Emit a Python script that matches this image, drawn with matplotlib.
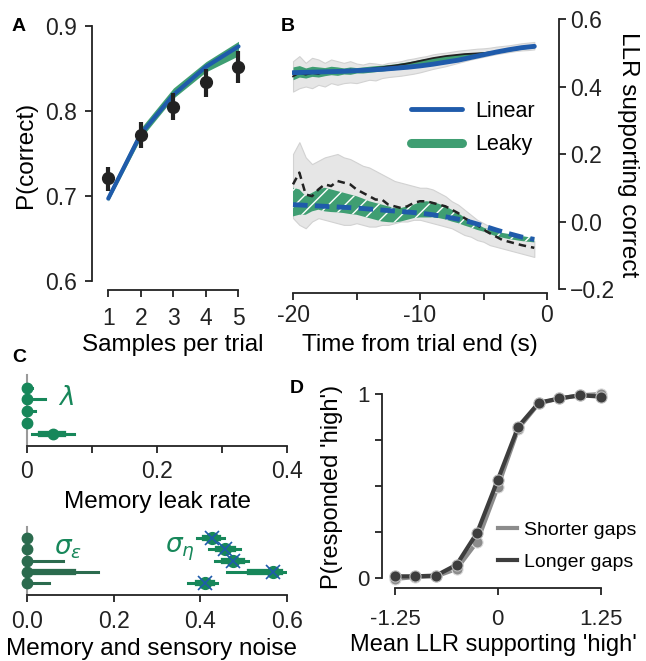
import numpy as np
import matplotlib
matplotlib.use("Agg")
import matplotlib.pyplot as plt

plt.rcParams['font.family'] = ['Liberation Sans', 'DejaVu Sans']
plt.rcParams['axes.unicode_minus'] = False
plt.rcParams['hatch.linewidth'] = 1.0

BLUE = '#1f5bab'
GREEN = '#3f9e72'
DOT_GREEN = '#17875a'
DARK_GREEN = '#2b6b4e'
INK = '#222222'

# ---- A: accuracy vs samples per trial
samples = [1, 2, 3, 4, 5]
acc_mean = [0.721, 0.772, 0.805, 0.834, 0.852]
acc_lo = [0.706, 0.756, 0.789, 0.816, 0.833]
acc_hi = [0.734, 0.787, 0.821, 0.850, 0.871]
linear_acc = [0.697, 0.773, 0.819, 0.852, 0.876]
leaky_acc_lo = [0.694, 0.768, 0.815, 0.846, 0.865]
leaky_acc_hi = [0.703, 0.780, 0.827, 0.858, 0.882]

# ---- B: LLR supporting correct, time before trial end
t_fine = [-20, -19.5, -19, -18.5, -18, -17.5, -17, -16.5, -16, -15.5, -15, -14.5, -14,
          -13.5, -13, -12.5, -12, -11.5, -11, -10.5, -10, -9.5, -9, -8.5, -8, -7.5, -7,
          -6.5, -6, -5.5, -5, -4.5, -4, -3.5, -3, -2.5, -2, -1.5, -1]
t_coarse = [-20, -19, -18, -17, -16, -15, -14, -13, -12, -11, -10, -9, -8, -7, -6, -5,
            -4, -3, -2, -1]

# correct choices (upper group)
cor_gray_hi = [0.475, 0.49, 0.47, 0.485, 0.48, 0.47, 0.48, 0.475, 0.47, 0.475, 0.468, 0.465,
               0.47, 0.468, 0.465, 0.47, 0.472, 0.475, 0.48, 0.483, 0.487, 0.49, 0.495, 0.498,
               0.5, 0.503, 0.506, 0.508, 0.51, 0.512, 0.513, 0.515, 0.518, 0.52, 0.522, 0.525,
               0.528, 0.53, 0.532]
cor_gray_lo = [0.385, 0.395, 0.40, 0.395, 0.405, 0.40, 0.41, 0.405, 0.41, 0.412, 0.41, 0.415,
               0.42, 0.418, 0.425, 0.428, 0.43, 0.432, 0.435, 0.438, 0.442, 0.447, 0.452, 0.456,
               0.46, 0.465, 0.47, 0.475, 0.48, 0.484, 0.488, 0.492, 0.496, 0.499, 0.502, 0.505,
               0.507, 0.508, 0.51]
cor_data = [0.43, 0.44, 0.435, 0.44, 0.437, 0.445, 0.44, 0.447, 0.443, 0.45, 0.446, 0.45,
            0.452, 0.455, 0.457, 0.46, 0.462, 0.465, 0.468, 0.472, 0.476, 0.48, 0.484, 0.487,
            0.49, 0.492, 0.494, 0.496, 0.497, 0.498, 0.499, 0.501, 0.503, 0.506, 0.509, 0.512,
            0.515, 0.518, 0.52]
cor_leaky_hi = [0.458, 0.462, 0.455, 0.46, 0.458, 0.456, 0.46, 0.458, 0.455, 0.458, 0.456,
                0.458, 0.46, 0.462, 0.463, 0.465, 0.467, 0.47, 0.473, 0.476, 0.48, 0.483, 0.486,
                0.489, 0.492, 0.494, 0.496, 0.498, 0.5, 0.501, 0.503, 0.505, 0.507, 0.51, 0.512,
                0.515, 0.518, 0.52, 0.522]
cor_leaky_lo = [0.42, 0.428, 0.425, 0.43, 0.428, 0.432, 0.435, 0.433, 0.437, 0.436, 0.44, 0.44,
                0.442, 0.444, 0.446, 0.448, 0.45, 0.452, 0.455, 0.458, 0.462, 0.465, 0.468,
                0.472, 0.475, 0.478, 0.481, 0.484, 0.487, 0.49, 0.493, 0.496, 0.499, 0.502,
                0.505, 0.508, 0.511, 0.513, 0.515]
cor_linear = [0.441, 0.442, 0.443, 0.444, 0.445, 0.447, 0.449, 0.451, 0.454, 0.457, 0.461,
              0.466, 0.472, 0.478, 0.486, 0.494, 0.502, 0.509, 0.515, 0.519]

# error choices (lower group)
err_gray_hi = [0.20, 0.235, 0.19, 0.17, 0.18, 0.19, 0.195, 0.20, 0.19, 0.185, 0.175, 0.165,
               0.16, 0.15, 0.14, 0.13, 0.12, 0.115, 0.11, 0.105, 0.10, 0.10, 0.095, 0.085,
               0.075, 0.06, 0.05, 0.035, 0.02, 0.005, -0.005, -0.015, -0.025, -0.035, -0.04,
               -0.048, -0.053, -0.056, -0.058]
err_gray_lo = [0.01, -0.01, -0.02, 0.0, 0.01, 0.005, 0.0, -0.005, -0.01, -0.01, -0.005, -0.01,
               -0.015, -0.015, -0.01, -0.01, -0.005, 0.0, 0.0, 0.005, 0.005, 0.0, -0.005, -0.01,
               -0.015, -0.02, -0.03, -0.04, -0.045, -0.055, -0.06, -0.07, -0.075, -0.08, -0.085,
               -0.09, -0.095, -0.1, -0.105]
err_data = [0.11, 0.145, 0.08, 0.075, 0.095, 0.11, 0.105, 0.12, 0.115, 0.11, 0.095, 0.085,
            0.075, 0.065, 0.065, 0.05, 0.045, 0.04, 0.045, 0.055, 0.06, 0.06, 0.055, 0.05,
            0.045, 0.035, 0.025, 0.01, 0.0, -0.01, -0.024, -0.035, -0.045, -0.055, -0.06,
            -0.065, -0.07, -0.074, -0.078]
err_leaky_hi = [0.10, 0.095, 0.075, 0.085, 0.095, 0.10, 0.095, 0.09, 0.085, 0.08, 0.075, 0.068,
                0.06, 0.055, 0.05, 0.045, 0.04, 0.04, 0.045, 0.05, 0.057, 0.06, 0.058, 0.052,
                0.045, 0.035, 0.025, 0.012, 0.002, -0.008, -0.018, -0.025, -0.03, -0.034,
                -0.037, -0.04, -0.043, -0.046, -0.048]
err_leaky_lo = [0.015, 0.02, 0.02, 0.03, 0.035, 0.03, 0.028, 0.027, 0.025, 0.022, 0.02, 0.015,
                0.01, 0.005, 0.0, -0.002, -0.003, 0.0, 0.005, 0.01, 0.012, 0.012, 0.012, 0.01,
                0.006, 0.0, -0.005, -0.012, -0.018, -0.025, -0.03, -0.037, -0.044, -0.048,
                -0.052, -0.055, -0.058, -0.06, -0.062]
err_linear = [0.05, 0.048, 0.046, 0.044, 0.042, 0.04, 0.037, 0.034, 0.031, 0.028, 0.025, 0.02,
              0.014, 0.007, -0.002, -0.013, -0.025, -0.036, -0.046, -0.053]

# ---- C: fitted parameters per subject (rows top to bottom)
rows = [1, 2, 3, 4, 5]
leak = [0.0, 0.0, 0.0, 0.0, 0.04]
leak_lo = [0.0, 0.0, 0.0, 0.0, 0.007]
leak_hi = [0.008, 0.027, 0.012, 0.0, 0.072]
leak_mid_lo = [0.0, 0.0, 0.0, 0.0, 0.022]
leak_mid_hi = [0.0, 0.0, 0.0, 0.0, 0.055]

mem_noise = [0.0, 0.0, 0.0, 0.0, 0.0]
mem_noise_hi = [0.0, 0.0, 0.083, 0.163, 0.051]
mem_noise_mid_hi = [0.0, 0.0, 0.0, 0.106, 0.0]

sens_noise = [0.426, 0.457, 0.476, 0.568, 0.411]
sens_noise_lo = [0.392, 0.42, 0.434, 0.461, 0.372]
sens_noise_hi = [0.455, 0.491, 0.511, 0.607, 0.439]
sens_noise_mid_lo = [0.41, 0.44, 0.455, 0.515, 0.395]
sens_noise_mid_hi = [0.44, 0.475, 0.495, 0.584, 0.428]

# ---- D: psychometric curves
mean_llr = [-1.25, -1.0, -0.75, -0.5, -0.25, 0.0, 0.25, 0.5, 0.75, 1.0, 1.25]
p_shorter = [-0.005, 0.005, 0.009, 0.049, 0.197, 0.494, 0.812, 0.949, 0.976, 0.993, 1.0]
p_longer = [0.009, 0.009, 0.013, 0.072, 0.247, 0.533, 0.823, 0.953, 0.976, 0.993, 0.986]


W, H = 646, 661
fig = plt.figure(figsize=(W / 100, H / 100), dpi=100)


def box(x0, y0, x1, y1):
    return [x0 / W, 1 - y1 / H, (x1 - x0) / W, (y1 - y0) / H]


def style(ax, size=16.5):
    for s in ax.spines.values():
        s.set_linewidth(1.3)
        s.set_color(INK)
    ax.tick_params(length=5, width=1.3, labelsize=size, colors=INK)


def xlabel_at(ax, text, xc, yc, size=17.5):
    ax.set_xlabel(text, fontsize=size, va='center', ha='center')
    ax.xaxis.set_label_coords(xc / W, 1 - yc / H, transform=fig.transFigure)


def ylabel_at(ax, text, xc, yc, rot=90, size=17.5):
    ax.set_ylabel(text, fontsize=size, va='center', ha='center', rotation=rot)
    ax.yaxis.set_label_coords(xc / W, 1 - yc / H, transform=fig.transFigure)


# ---------------- A
axA = fig.add_axes(box(92, 26, 245, 281))
style(axA)
axA.fill_between(samples, leaky_acc_lo, leaky_acc_hi, color=GREEN, lw=0, zorder=2)
axA.plot(samples, linear_acc, color=BLUE, lw=3, zorder=3, solid_capstyle='round')
yerr = [np.array(acc_mean) - np.array(acc_lo), np.array(acc_hi) - np.array(acc_mean)]
axA.errorbar(samples, acc_mean, yerr=yerr, fmt='o', color=INK, ms=8.5, elinewidth=3,
             capsize=0, zorder=4)
axA.set_xlim(0.5, 5.2)
axA.set_ylim(0.6, 0.9)
axA.set_xticks(samples)
axA.set_yticks([0.6, 0.7, 0.8, 0.9])
axA.tick_params(axis='x', pad=7)
axA.tick_params(axis='y', pad=6)
axA.spines['top'].set_visible(False)
axA.spines['right'].set_visible(False)
axA.spines['bottom'].set_position(('outward', 6.5))
axA.spines['bottom'].set_bounds(1, 5)
xlabel_at(axA, 'Samples per trial', 173, 345)
ylabel_at(axA, 'P(correct)', 26, 155)

# ---------------- B
axB = fig.add_axes(box(292, 19, 559, 289))
style(axB)
axB.fill_between(t_fine, cor_gray_lo, cor_gray_hi, color='#e6e6e6', edgecolor='#d2d2d2',
                 lw=0.8, zorder=1)
axB.fill_between(t_fine, cor_leaky_lo, cor_leaky_hi, color=GREEN, lw=0, zorder=2)
axB.plot(t_fine, cor_data, color=INK, lw=1.3, zorder=3)
axB.plot(t_coarse, cor_linear, color=BLUE, lw=3.5, zorder=4, solid_capstyle='round')

axB.fill_between(t_fine, err_gray_lo, err_gray_hi, color='#e6e6e6', edgecolor='#d2d2d2',
                 lw=0.8, zorder=1)
axB.fill_between(t_fine, err_leaky_lo, err_leaky_hi, facecolor=GREEN, edgecolor='white',
                 hatch='//', lw=0, zorder=2)
axB.plot(t_fine, err_data, color=INK, lw=1.8, dashes=(3, 2), zorder=3)
axB.plot(t_coarse, err_linear, color=BLUE, lw=3.5, dashes=(3, 1.5), zorder=4)

axB.plot([], [], color=BLUE, lw=3.5, solid_capstyle='round', label='Linear')
axB.plot([], [], color=GREEN, lw=6.5, solid_capstyle='round', label='Leaky')
axB.legend(loc='upper left', bbox_to_anchor=(0.412, 0.73), frameon=False, fontsize=15.5,
           handlelength=2.4, handletextpad=0.6, labelspacing=0.6, borderaxespad=0)

axB.set_xlim(-20.08, 0.945)
axB.set_ylim(-0.2, 0.6)
axB.set_xticks([-20, -15, -10, -5, 0])
axB.set_xticklabels(['-20', '', '-10', '', '0'])
axB.set_yticks([-0.2, 0.0, 0.2, 0.4, 0.6])
axB.set_yticklabels(['\u22120.2', '0.0', '0.2', '0.4', '0.6'])
axB.yaxis.tick_right()
axB.tick_params(axis='both', pad=3)
axB.spines['top'].set_visible(False)
axB.spines['left'].set_visible(False)
axB.spines['bottom'].set_position(('outward', 3))
axB.spines['bottom'].set_bounds(-20, 0)
xlabel_at(axB, 'Time from trial end (s)', 420, 345)
ylabel_at(axB, 'LLR supporting correct', 628, 155, rot=270)

# ---------------- C (leak)
axC1 = fig.add_axes(box(27, 375, 287, 446))
style(axC1)
for r, lo, hi in zip(rows, leak_lo, leak_hi):
    axC1.plot([lo, hi], [r, r], color=DOT_GREEN, lw=2.2, zorder=2, clip_on=False)
for r, lo, hi in zip(rows, leak_mid_lo, leak_mid_hi):
    axC1.plot([lo, hi], [r, r], color=DOT_GREEN, lw=4.5, zorder=2, clip_on=False)
axC1.plot(leak, rows, 'o', color=DOT_GREEN, ms=7.5, zorder=3, clip_on=False)
axC1.text(0.047, 1.9, r'$\lambda$', color=DOT_GREEN, fontsize=19, va='center')
axC1.set_xlim(0, 0.4)
axC1.set_ylim(6.0, -0.1)
axC1.set_xticks([0, 0.1, 0.2, 0.3, 0.4])
axC1.set_xticklabels(['0', '', '0.2', '', '0.4'])
axC1.set_yticks([])
axC1.tick_params(axis='x', pad=5)
axC1.spines['top'].set_visible(False)
axC1.spines['right'].set_visible(False)
axC1.spines['left'].set_color('#9a9a9a')
axC1.spines['left'].set_linewidth(1.5)
xlabel_at(axC1, 'Memory leak rate', 157, 502)

# ---------------- C (noise)
axC2 = fig.add_axes(box(27, 527, 287, 595))
style(axC2)
for r, hi in zip(rows, mem_noise_hi):
    axC2.plot([0, hi], [r, r], color=DARK_GREEN, lw=2.2, zorder=2)
for r, hi in zip(rows, mem_noise_mid_hi):
    axC2.plot([0, hi], [r, r], color=DARK_GREEN, lw=4.5, zorder=2)
axC2.plot(mem_noise, rows, 'o', color=DARK_GREEN, ms=7.5, zorder=3, clip_on=False)
for r, lo, hi in zip(rows, sens_noise_lo, sens_noise_hi):
    axC2.plot([lo, hi], [r, r], color=DOT_GREEN, lw=2.2, zorder=2)
for r, lo, hi in zip(rows, sens_noise_mid_lo, sens_noise_mid_hi):
    axC2.plot([lo, hi], [r, r], color=DOT_GREEN, lw=4.5, zorder=2)
axC2.plot(sens_noise, rows, 'o', color=DOT_GREEN, ms=8.5, zorder=3)
axC2.plot(sens_noise, rows, 'x', color=BLUE, ms=9.5, mew=1.2, zorder=4)
axC2.text(0.063, 2.0, r'$\sigma_\varepsilon$', color=DOT_GREEN, fontsize=19, va='center')
axC2.text(0.318, 2.0, r'$\sigma_\eta$', color=DOT_GREEN, fontsize=19, va='center')
axC2.set_xlim(0, 0.6)
axC2.set_ylim(6.05, 0)
axC2.set_xticks([0.0, 0.2, 0.4, 0.6])
axC2.set_xticklabels(['0.0', '0.2', '0.4', '0.6'])
axC2.set_yticks([])
axC2.tick_params(axis='x', pad=6)
axC2.spines['top'].set_visible(False)
axC2.spines['right'].set_visible(False)
axC2.spines['left'].set_color('#9a9a9a')
axC2.spines['left'].set_linewidth(1.5)
xlabel_at(axC2, 'Memory and sensory noise', 152, 649)

# ---------------- D
axD = fig.add_axes(box(382, 388.5, 608, 583.5))
style(axD, size=16)
axD.plot(mean_llr, p_shorter, '-o', color='#8c8c8c', lw=3, ms=8, mec='#dddddd', mew=0.8,
         label='Shorter gaps', clip_on=False, zorder=3)
axD.plot(mean_llr, p_longer, '-o', color='#3d3d3d', lw=3, ms=8, mec='#bbbbbb', mew=0.8,
         label='Longer gaps', clip_on=False, zorder=4)
axD.legend(loc='upper left', bbox_to_anchor=(0.48, 0.36), frameon=False, fontsize=14,
           handlelength=0.95, handletextpad=0.35, labelspacing=0.75, borderaxespad=0,
           markerscale=0)
axD.set_xlim(-1.407, 1.34)
axD.set_ylim(-0.03, 1.03)
axD.set_xticks([-1.25, 0, 1.25])
axD.set_xticklabels(['-1.25', '0', '1.25'])
axD.set_yticks([0, 0.25, 0.5, 0.75, 1])
axD.set_yticklabels(['0', '', '', '', '1'])
axD.tick_params(axis='x', pad=10)
axD.tick_params(axis='y', pad=4)
axD.spines['top'].set_visible(False)
axD.spines['right'].set_visible(False)
axD.spines['left'].set_bounds(0, 1)
axD.spines['bottom'].set_position(('outward', 3.5))
axD.spines['bottom'].set_bounds(-1.25, 1.25)
xlabel_at(axD, "Mean LLR supporting 'high'", 493, 645, size=17)
ylabel_at(axD, "P(responded 'high')", 332, 487, size=17)

# panel letters
for letter, x, y in [('A', 12, 18), ('B', 281, 18), ('C', 12, 349), ('D', 290, 380)]:
    fig.text(x / W, 1 - y / H, letter, fontsize=14, fontweight='bold', va='top', ha='left')

fig.savefig('out.png', dpi=100)
